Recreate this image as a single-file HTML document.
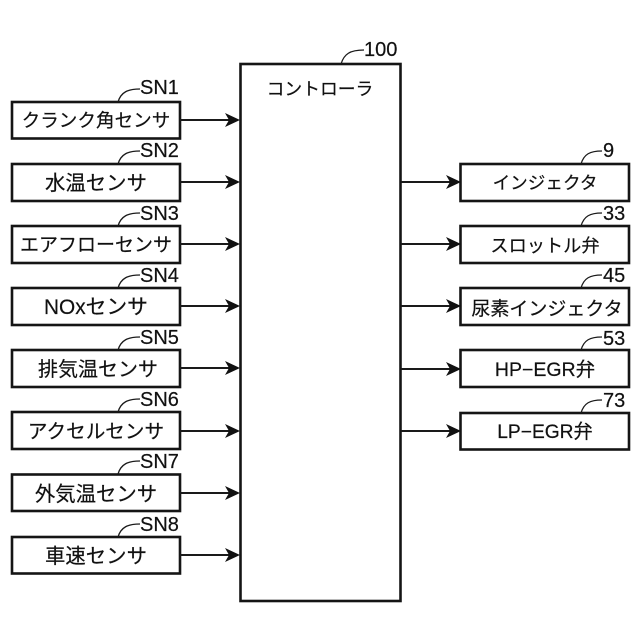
<!DOCTYPE html>
<html><head><meta charset="utf-8">
<style>
html,body{margin:0;padding:0;background:#fff;width:640px;height:640px;overflow:hidden}
svg{display:block}
text{font-family:"Liberation Sans","Noto Sans CJK JP",sans-serif;fill:#111;stroke:#111;stroke-width:.2}
.l{font-size:20px;text-anchor:middle}
.n{font-size:20px}
rect{fill:#fff;stroke:#151515;stroke-width:2.6}
.a{stroke:#1a1a1a;stroke-width:1.9;fill:none}
.c{stroke:#1a1a1a;stroke-width:1.3;fill:none}
.h{fill:#111}
</style></head><body>
<svg width="640" height="640" viewBox="0 0 640 640" xmlns="http://www.w3.org/2000/svg">
<rect x="240.500" y="64" width="160" height="537"/>
<text x="320" y="95" class="l" style="font-size:17.800px">コントローラ</text>
<path class="c" d="M341 64C344 54 350 50 364 50"/><text x="364" y="56" class="n">100</text>

<rect x="12" y="102" width="168" height="36.500"/><text x="96" y="127" class="l" style="font-size:18.600px">クランク角センサ</text>
<path class="a" d="M180 120H230"/><path class="h" d="M240 120L225 113L229 120L225 127Z"/>
<path class="c" d="M118 102C121 92 128 89 140 89"/><text x="140" y="94" class="n">SN1</text>

<rect x="12" y="164" width="168" height="37"/><text x="96" y="190" class="l" style="font-size:20.400px">水温センサ</text>
<path class="a" d="M180 182H230"/><path class="h" d="M240 182L225 175L229 182L225 189Z"/>
<path class="c" d="M118 164C121 154 128 151 140 151"/><text x="140" y="157" class="n">SN2</text>

<rect x="12" y="226" width="168" height="37"/><text x="96" y="251" class="l" style="font-size:19px">エアフローセンサ</text>
<path class="a" d="M180 244H230"/><path class="h" d="M240 244L225 237L229 244L225 251Z"/>
<path class="c" d="M118 226C121 216 128 213 140 213"/><text x="140" y="220" class="n">SN3</text>

<rect x="12" y="288" width="168" height="37"/><text x="96" y="314" class="l" style="font-size:20.800px">NOxセンサ</text>
<path class="a" d="M180 306H230"/><path class="h" d="M240 306L225 299L229 306L225 313Z"/>
<path class="c" d="M118 288C121 278 128 275 140 275"/><text x="140" y="282" class="n">SN4</text>

<rect x="12" y="350" width="168" height="37"/><text x="98" y="376" class="l" style="font-size:20px">排気温センサ</text>
<path class="a" d="M180 368H230"/><path class="h" d="M240 368L225 361L229 368L225 375Z"/>
<path class="c" d="M118 350C121 340 128 337 140 337"/><text x="140" y="344" class="n">SN5</text>

<rect x="12" y="412" width="168" height="37"/><text x="96" y="438" class="l" style="font-size:19.600px">アクセルセンサ</text>
<path class="a" d="M180 431H230"/><path class="h" d="M240 431L225 424L229 431L225 438Z"/>
<path class="c" d="M118 412C121 402 128 399 140 399"/><text x="140" y="406" class="n">SN6</text>

<rect x="12" y="474.500" width="168" height="36.500"/><text x="96" y="501" class="l" style="font-size:20.400px">外気温センサ</text>
<path class="a" d="M180 493H230"/><path class="h" d="M240 493L225 486L229 493L225 500Z"/>
<path class="c" d="M118 474C121 464 128 461 140 461"/><text x="140" y="468" class="n">SN7</text>

<rect x="12" y="537" width="168" height="36.500"/><text x="96" y="563" class="l" style="font-size:20.400px">車速センサ</text>
<path class="a" d="M180 555H230"/><path class="h" d="M240 555L225 548L229 555L225 562Z"/>
<path class="c" d="M118 537C121 527 128 524 140 524"/><text x="140" y="531" class="n">SN8</text>

<rect x="460.500" y="164" width="168.500" height="37"/><text x="545" y="189" class="l" style="font-size:17.600px">インジェクタ</text>
<path class="a" d="M401 182H451"/><path class="h" d="M461 182L446 175L450 182L446 189Z"/>
<path class="c" d="M581 164C584 154 590 151 602 151"/><text x="603" y="157" class="n">9</text>

<rect x="460.500" y="226" width="168.500" height="37"/><text x="545" y="252" class="l" style="font-size:18.200px">スロットル弁</text>
<path class="a" d="M401 244H451"/><path class="h" d="M461 244L446 237L450 244L446 251Z"/>
<path class="c" d="M581 226C584 216 590 213 602 213"/><text x="603" y="220" class="n">33</text>

<rect x="460.500" y="288" width="168.500" height="37"/><text x="547" y="315" class="l" style="font-size:19px">尿素インジェクタ</text>
<path class="a" d="M401 306H451"/><path class="h" d="M461 306L446 299L450 306L446 313Z"/>
<path class="c" d="M581 288C584 278 590 275 602 275"/><text x="603" y="282" class="n">45</text>

<rect x="460.500" y="350" width="168.500" height="37"/><text x="545" y="376" class="l" style="font-size:19.500px">HP−EGR弁</text>
<path class="a" d="M401 369H451"/><path class="h" d="M461 369L446 362L450 369L446 376Z"/>
<path class="c" d="M581 350C584 340 590 337 602 337"/><text x="603" y="345" class="n">53</text>

<rect x="460.500" y="413" width="168.500" height="36.500"/><text x="545" y="438" class="l" style="font-size:19.200px">LP−EGR弁</text>
<path class="a" d="M401 431H451"/><path class="h" d="M461 431L446 424L450 431L446 438Z"/>
<path class="c" d="M581 413C584 403 590 400 602 400"/><text x="603" y="407" class="n">73</text>
</svg>
</body></html>
